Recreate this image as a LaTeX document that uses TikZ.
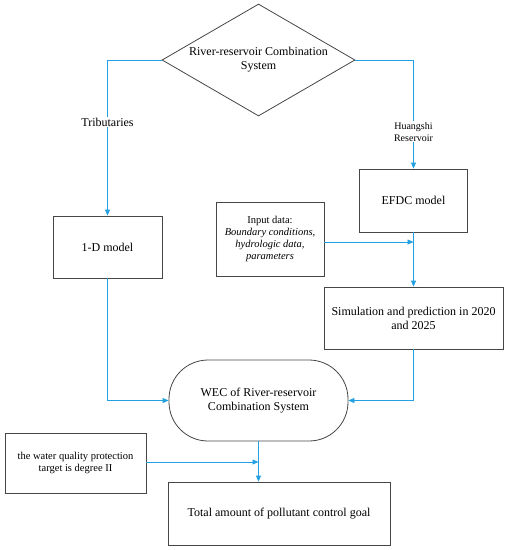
\documentclass[tikz,border=0pt]{standalone}
\usepackage{fontspec}
\setmainfont{Liberation Serif}
\usetikzlibrary{shapes.geometric,arrows.meta}
\definecolor{flow}{RGB}{35,160,225}
\definecolor{boxline}{RGB}{70,70,70}
\tikzset{
  box/.style={draw=boxline, line width=0.8pt, align=center, inner sep=2pt, font=\fontsize{12}{14}\selectfont},
  smallbox/.style={box, font=\fontsize{10.5}{12}\selectfont},
  link/.style={draw=flow, line width=0.8pt},
  arrowlink/.style={link, -{Triangle[length=6pt,width=5pt]}},
  lbl/.style={fill=white, inner sep=1pt, align=center}
}
\begin{document}
\begin{tikzpicture}[x=1pt,y=-1pt]
\useasboundingbox (0,0) rectangle (509,550);
\node[box, shape=diamond, aspect=1.72, inner sep=0pt, minimum width=193pt, minimum height=112pt] (sys) at (258.5,60) {River-reservoir Combination\\System};
\node[box, minimum width=109pt, minimum height=62pt] (oned) at (107.5,247) {1-D model};
\node[box, minimum width=108pt, minimum height=63pt] (efdc) at (413.5,200.5) {EFDC model};
\node[smallbox, minimum width=108pt, minimum height=74pt] (input) at (270,239) {Input data:\\\textit{Boundary conditions,}\\\textit{hydrologic data,}\\\textit{parameters}};
\node[box, minimum width=179pt, minimum height=62pt] (sim) at (413.5,318) {Simulation and prediction in 2020\\and 2025};
\node[box, rounded corners=39pt, minimum width=179pt, minimum height=81pt] (wec) at (258.5,400.5) {WEC of River-reservoir\\Combination System};
\node[smallbox, minimum width=141pt, minimum height=60pt] (wq) at (75.5,463) {the water quality protection\\target is degree II};
\node[box, minimum width=222pt, minimum height=63pt] (total) at (279,513.5) {Total amount of pollutant control goal};
\coordinate (j1) at (efdc.south |- 0,242);
\coordinate (j2) at (wec.south |- 0,462);
\draw[arrowlink] (sys.west) -| node[lbl, pos=0.7, font=\fontsize{12}{14}\selectfont] {Tributaries} (oned.north);
\draw[arrowlink] (sys.east) -| node[lbl, pos=0.83, font=\fontsize{10}{12}\selectfont] {Huangshi\\Reservoir} (efdc.north);
\draw[arrowlink] (efdc.south) -- (sim.north);
\draw[arrowlink] (input.east |- j1) -- (j1);
\draw[arrowlink] (oned.south) |- (wec.west);
\draw[arrowlink] (sim.south) |- (wec.east);
\draw[arrowlink] (wec.south) -- (wec.south |- total.north);
\draw[arrowlink] (wq.east |- j2) -- (j2);
\end{tikzpicture}
\end{document}
